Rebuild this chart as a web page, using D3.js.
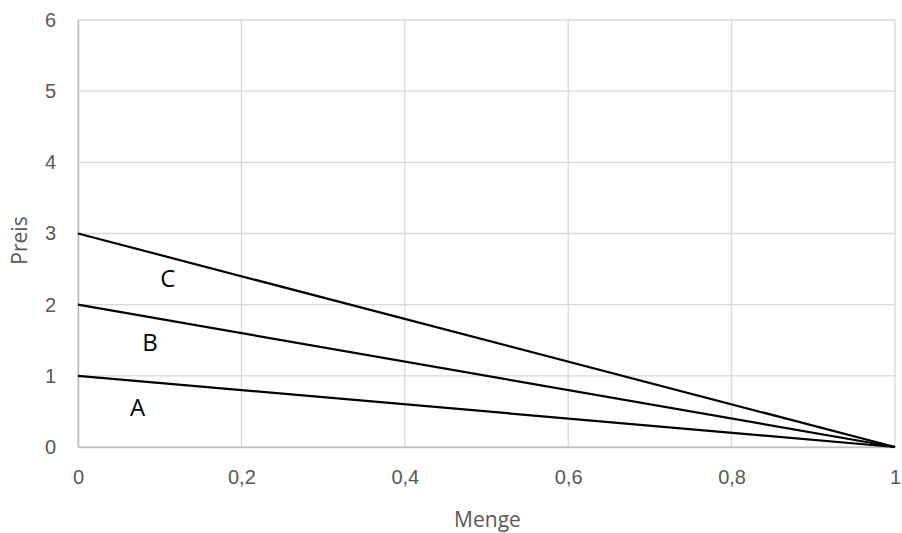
<!DOCTYPE html>
<html>
<head>
<meta charset="utf-8">
<script src="https://cdn.jsdelivr.net/npm/d3@7"></script>
<style>
  body { margin: 0; background: #fff; }
  svg { display: block; font-family: "Open Sans", sans-serif; }
</style>
</head>
<body>
<div id="chart"></div>
<script>
// Daten
const menge = [0, 1];
const preisA = [1, 0];
const preisB = [2, 0];
const preisC = [3, 0];
const xTicks = [0, 0.2, 0.4, 0.6, 0.8, 1];
const yTicks = [0, 1, 2, 3, 4, 5, 6];
const labels = [
    { name: 'A', x: 0.073, y: 0.56 },
    { name: 'B', x: 0.088, y: 1.47 },
    { name: 'C', x: 0.11, y: 2.36 }
];

const W = 902, H = 533;
const margin = { top: 20, right: 7, bottom: 86, left: 78 };
const width = W - margin.left - margin.right,
      height = H - margin.top - margin.bottom;

const svg = d3.select('#chart').append('svg')
    .attr('width', W)
    .attr('height', H)
    .append('g')
    .attr('transform', `translate(${margin.left},${margin.top})`);

const x = d3.scaleLinear().domain([0, 1]).range([0, width]);
const y = d3.scaleLinear().domain([0, 6]).range([height, 0]);

const fmt = d => d3.format('.1~f')(d).replace('.', ',');

// Gitternetz
svg.append('g')
    .selectAll('line')
    .data(yTicks)
    .enter().append('line')
    .attr('x1', 0).attr('x2', width)
    .attr('y1', d => y(d)).attr('y2', d => y(d))
    .attr('stroke', '#d9d9d9').attr('stroke-width', 1.3);

svg.append('g')
    .selectAll('line')
    .data(xTicks)
    .enter().append('line')
    .attr('y1', 0).attr('y2', height)
    .attr('x1', d => x(d)).attr('x2', d => x(d))
    .attr('stroke', '#d9d9d9').attr('stroke-width', 1.3);

// Achsen
const xAxis = svg.append('g')
    .attr('transform', `translate(0,${height})`)
    .call(d3.axisBottom(x).tickValues(xTicks).tickFormat(fmt).tickSize(0).tickPadding(23));
const yAxis = svg.append('g')
    .call(d3.axisLeft(y).tickValues(yTicks).tickFormat(d3.format('d')).tickSize(0).tickPadding(22));

[xAxis, yAxis].forEach(a => {
    a.select('.domain').attr('stroke', '#bfbfbf').attr('stroke-width', 1.5);
    a.selectAll('text').attr('fill', '#595959').style('font-size', '20px');
});

// Achsentitel
svg.append('text')
    .attr('x', width / 2 + 1)
    .attr('y', height + 80)
    .attr('text-anchor', 'middle')
    .attr('fill', '#595959')
    .style('font-size', '21px')
    .text('Menge');

svg.append('text')
    .attr('transform', `translate(${-51},${height / 2 + 7}) rotate(-90)`)
    .attr('text-anchor', 'middle')
    .attr('fill', '#595959')
    .style('font-size', '21px')
    .text('Preis');

// Linien
const line = d3.line().x(d => x(d[0])).y(d => y(d[1]));
[preisA, preisB, preisC].forEach(s => {
    svg.append('path')
        .datum(menge.map((m, i) => [m, s[i]]))
        .attr('d', line)
        .attr('fill', 'none')
        .attr('stroke', '#000')
        .attr('stroke-width', 2.2);
});

// Beschriftungen
svg.selectAll('.lbl')
    .data(labels)
    .enter().append('text')
    .attr('x', d => x(d.x))
    .attr('y', d => y(d.y))
    .attr('dy', '0.35em')
    .attr('text-anchor', 'middle')
    .attr('fill', '#000')
    .style('font-size', '24px')
    .text(d => d.name);
</script>
</body>
</html>
